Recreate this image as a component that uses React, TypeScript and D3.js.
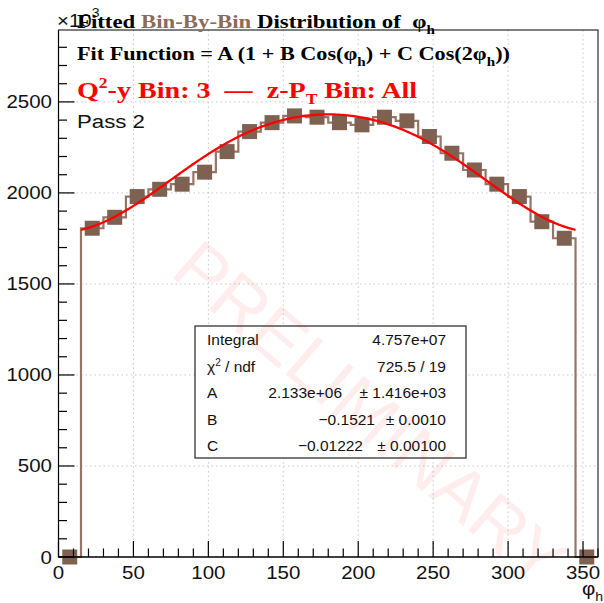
import * as d3 from "d3";

// phi_h bin centres (15 degree bins) and counts (x10^3)
const phiBins = [
  7.5, 22.5, 37.5, 52.5, 67.5, 82.5, 97.5, 112.5, 127.5, 142.5, 157.5, 172.5,
  187.5, 202.5, 217.5, 232.5, 247.5, 262.5, 277.5, 292.5, 307.5, 322.5, 337.5, 352.5,
];
const counts = [
  0, 1806, 1866, 1980, 2020, 2048, 2114, 2227, 2337, 2386, 2423, 2416, 2386,
  2374, 2416, 2396, 2310, 2218, 2126, 2048, 1980, 1842, 1751, 0,
];
const binWidth = 15;

// fit parameters A (in x10^3 units), B, C and fit range
const fitParams = [2133, -0.1521, -0.01222];
const fitRange = [15, 345];

const xTickLabels = ["0", "50", "100", "150", "200", "250", "300", "350"];
const yTickLabels = ["0", "500", "1000", "1500", "2000", "2500"];

const statLabels = ["Integral", "χ² / ndf", "A", "B", "C"];
const statValues = ["4.757e+07", "725.5 / 19", "2.133e+06", "−0.1521", "−0.01222"];
const statErrors = ["", "", "± 1.416e+03", "± 0.0010", "± 0.00100"];

const width = 604;
const height = 603;
const marginLeft = 58.5;
const marginRight = 6;
const marginTop = 30;
const marginBottom = 46;

const sans = "'Liberation Sans', Arial, Helvetica, sans-serif";
const serif = "'Liberation Serif', 'Times New Roman', serif";
const brown = "#7f6151";
const brownLine = "#957565";
const stretch = 1.17;
const sp = "\u00a0";

// the reference text is drawn a bit wide
const st = (x: number, y: number) => `translate(${x},${y}) scale(${stretch},1)`;

export default function App() {
  const x = d3
    .scaleLinear()
    .domain([0, 360])
    .range([marginLeft, width - marginRight]);
  const y = d3
    .scaleLinear()
    .domain([0, 2895])
    .range([height - marginBottom, marginTop]);

  const edges = phiBins.map((c) => c - binWidth / 2);
  const stepPts: [number, number][] = edges.map((e, i) => [e, counts[i]]);
  stepPts.push([phiBins[phiBins.length - 1] + binWidth / 2, counts[counts.length - 1]]);
  const step = d3
    .line<[number, number]>()
    .x((d) => x(d[0]))
    .y((d) => y(d[1]))
    .curve(d3.curveStepAfter);

  const [A, B, C] = fitParams;
  const fitPts = d3.range(fitRange[0], fitRange[1] + 0.01, 1).map((p) => {
    const r = (p * Math.PI) / 180;
    return [p, A * (1 + B * Math.cos(r) + C * Math.cos(2 * r))] as [number, number];
  });
  const fitLine = d3
    .line<[number, number]>()
    .x((d) => x(d[0]))
    .y((d) => y(d[1]))
    .curve(d3.curveMonotoneX);

  const xMajor = xTickLabels.map(Number);
  const yMajor = yTickLabels.map(Number);
  const xMinor = d3.range(0, 361, 10).filter((v) => v % 50 !== 0);
  const yMinor = d3.range(0, 2895, 100).filter((v) => v % 500 !== 0);

  const x0 = x(0);
  const x1 = x(360);
  const y0 = y(0);
  const y1 = y(2895);

  const boxL = 195;
  const boxT = 326;
  const boxR = 466;
  const boxB = 458;
  const rowH = 26.5;
  const valueEnds = [446, 446, 342, 375, 363];

  return (
    <svg
      width={width}
      height={height}
      style={{ position: "absolute", left: 0, top: 0, background: "#fff" }}
    >
      <rect width={width} height={height} fill="#fff" />

      {/* grid */}
      <g stroke="#c8c8c8" strokeDasharray="1.5,3" strokeWidth={1}>
        {xMajor.slice(1).map((v) => (
          <line key={"gx" + v} x1={x(v)} x2={x(v)} y1={y1} y2={y0} />
        ))}
        {yMajor.slice(1).map((v) => (
          <line key={"gy" + v} x1={x0} x2={x1} y1={y(v)} y2={y(v)} />
        ))}
      </g>

      {/* histogram outline */}
      <path d={step(stepPts) || undefined} fill="none" stroke={brownLine} strokeWidth={2.2} />

      {/* markers */}
      <g fill={brown}>
        {phiBins.map((p, i) => (
          <rect key={i} x={x(p) - 7.5} y={y(counts[i]) - 7.5} width={15} height={15} />
        ))}
      </g>

      {/* fit */}
      <path d={fitLine(fitPts) || undefined} fill="none" stroke="#ff0000" strokeWidth={2.3} />

      {/* stats box */}
      <rect x={boxL} y={boxT} width={boxR - boxL} height={boxB - boxT} fill="#fff" stroke="#333" strokeWidth={1.3} />
      <g fontFamily={sans} fontSize={15.5} fill="#111">
        {statLabels.map((l, i) => (
          <text key={"l" + i} x={207} y={boxT + 19 + i * rowH}>
            {l === "χ² / ndf" ? (
              <>
                χ<tspan fontSize={10} dy={-6}>2</tspan>
                <tspan dy={6}>{sp}/ ndf</tspan>
              </>
            ) : (
              l
            )}
          </text>
        ))}
        {statValues.map((v, i) => (
          <text key={"v" + i} x={valueEnds[i]} y={boxT + 19 + i * rowH} textAnchor="end">
            {v}
          </text>
        ))}
        {statErrors.map((e, i) =>
          e ? (
            <text key={"e" + i} x={446} y={boxT + 19 + i * rowH} textAnchor="end">
              {e}
            </text>
          ) : null
        )}
      </g>

      {/* watermark */}
      <text
        x={0}
        y={0}
        transform="translate(366,418) rotate(40.5)"
        textAnchor="middle"
        dominantBaseline="middle"
        fontFamily={sans}
        fontSize={72}
        fill="#ff0000"
        fillOpacity={0.07}
      >
        PRELIMINARY
      </text>

      {/* frame and axes */}
      <rect x={x0} y={y1} width={x1 - x0} height={y0 - y1} fill="none" stroke="#000" strokeWidth={1} />
      <g stroke="#000" strokeWidth={1.2}>
        <line x1={x0} x2={x0} y1={y1} y2={y0} />
        <line x1={x0} x2={x1} y1={y0} y2={y0} />
        {xMajor.map((v) => (
          <line key={"xt" + v} x1={x(v)} x2={x(v)} y1={y0} y2={y0 - 16} />
        ))}
        {xMinor.map((v) => (
          <line key={"xm" + v} x1={x(v)} x2={x(v)} y1={y0} y2={y0 - 8.5} />
        ))}
        {yMajor.map((v) => (
          <line key={"yt" + v} x1={x0} x2={x0 + 16} y1={y(v)} y2={y(v)} />
        ))}
        {yMinor.map((v) => (
          <line key={"ym" + v} x1={x0} x2={x0 + 8.5} y1={y(v)} y2={y(v)} />
        ))}
      </g>
      <g fontFamily={sans} fontSize={17.5} fill="#111">
        {xTickLabels.map((t, i) => (
          <text key={"xl" + t} transform={st(x(xMajor[i]), y0 + 22)} textAnchor="middle">
            {t}
          </text>
        ))}
        {yTickLabels.map((t, i) => (
          <text key={"yl" + t} transform={st(52, y(yMajor[i]) + 6.5)} textAnchor="end">
            {t}
          </text>
        ))}
        <text transform={st(582, 595)}>
          φ<tspan fontSize={12} dy={6}>h</tspan>
        </text>
        <text transform={st(57, 27)}>
          ×10<tspan fontSize={12} dy={-10}>3</tspan>
        </text>
      </g>

      {/* title lines */}
      <text transform={st(77, 28)} fontFamily={serif} fontWeight="bold" fontSize={19.5} fill="#000">
        {"Fitted" + sp}
        <tspan fill="#8c6b5b">Bin-By-Bin</tspan>
        {sp + "Distribution of" + sp + sp + "φ"}
        <tspan fontSize={13} dy={6}>h</tspan>
      </text>
      <text transform={st(77, 60)} fontFamily={serif} fontWeight="bold" fontSize={19} fill="#000">
        Fit Function = A (1 + B Cos(φ<tspan fontSize={13} dy={6}>h</tspan>
        <tspan dy={-6}>) + C Cos(2φ</tspan>
        <tspan fontSize={13} dy={6}>h</tspan>
        <tspan dy={-6}>))</tspan>
      </text>
      <text transform={st(77, 98)} fontFamily={serif} fontWeight="bold" fontSize={24} fill="#ff0000">
        Q<tspan fontSize={15} dy={-10}>2</tspan>
        <tspan dy={10}>{"-y Bin: 3" + sp + sp + "—" + sp + sp + "z-P"}</tspan>
        <tspan fontSize={15} dy={6}>T</tspan>
        <tspan dy={-6}>{sp + "Bin: All"}</tspan>
      </text>
      <text transform={st(77, 128)} fontFamily={sans} fontSize={19} fill="#111">
        Pass 2
      </text>
    </svg>
  );
}
